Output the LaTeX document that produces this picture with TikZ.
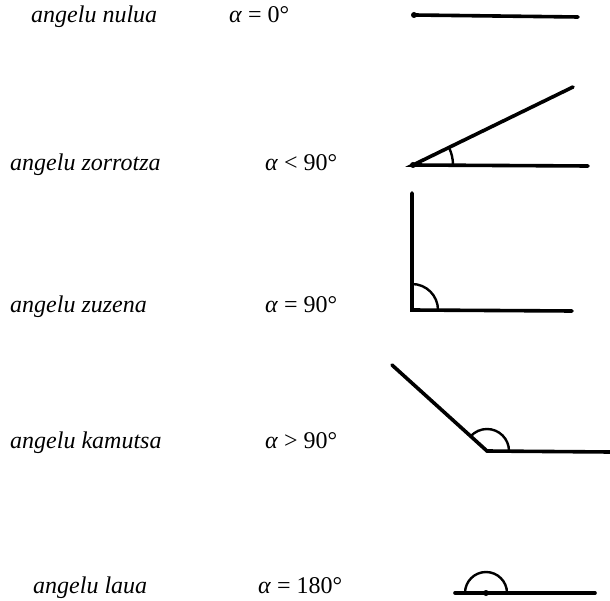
\documentclass[tikz,border=0pt]{standalone}
\usepackage{fontspec}
\setmainfont{Liberation Serif}
\begin{document}
\begin{tikzpicture}[x=1pt,y=-1pt,
  lbl/.style={anchor=base west,inner sep=0pt,font=\fontsize{24}{28}\selectfont\itshape},
  eqn/.style={anchor=base west,inner sep=0pt,font=\fontsize{24}{28}\selectfont},
  ray/.style={line width=3.6pt,line cap=round},
  arcl/.style={line width=2.4pt}]
\useasboundingbox (0,0) rectangle (610,601);
% row 1
\node[lbl] (l1) at (31,23) {angelu nulua};
\node[eqn] (e1) at (229,23) {\textit{α} = 0°};
\coordinate (v1) at (414,15);
\coordinate (r1) at (578,17);
\draw[ray] (v1) -- (r1);
\fill (v1) circle (3);
% row 2
\node[lbl] (l2) at (10,171) {angelu zorrotza};
\node[eqn] (e2) at (265,171) {\textit{α} < 90°};
\coordinate (v2) at (413,165);
\coordinate (a2) at (573,87);
\coordinate (b2) at (588,166);
\draw[ray] (a2) -- (v2) -- (b2);
\fill (v2) circle (3);
\draw[arcl] (v2) ++(0:40) arc[start angle=0,end angle=-26,radius=40];
% row 3
\node[lbl] (l3) at (10,313) {angelu zuzena};
\node[eqn] (e3) at (265,313) {\textit{α} = 90°};
\coordinate (v3) at (412,310);
\coordinate (a3) at (412,193);
\coordinate (b3) at (572,311);
\draw[ray] (a3) -- (v3) -- (b3);
\draw[arcl] (v3) ++(0:26) arc[start angle=0,end angle=-90,radius=26];
% row 4
\node[lbl] (l4) at (10,448) {angelu kamutsa};
\node[eqn] (e4) at (265,448) {\textit{α} > 90°};
\coordinate (v4) at (487,451);
\coordinate (a4) at (392,365);
\coordinate (b4) at (610,452);
\draw[ray] (a4) -- (v4) -- (b4);
\draw[arcl] (v4) ++(0:22) arc[start angle=0,end angle=-138,radius=22];
% row 5
\node[lbl] (l5) at (33,593) {angelu laua};
\node[eqn] (e5) at (258,593) {\textit{α} = 180°};
\coordinate (v5) at (486,593);
\coordinate (a5) at (455,593);
\coordinate (b5) at (595,593);
\draw[ray] (a5) -- (v5) -- (b5);
\fill (v5) circle (3);
\draw[arcl] (v5) ++(0:21) arc[start angle=0,end angle=-180,radius=21];
\end{tikzpicture}
\end{document}
